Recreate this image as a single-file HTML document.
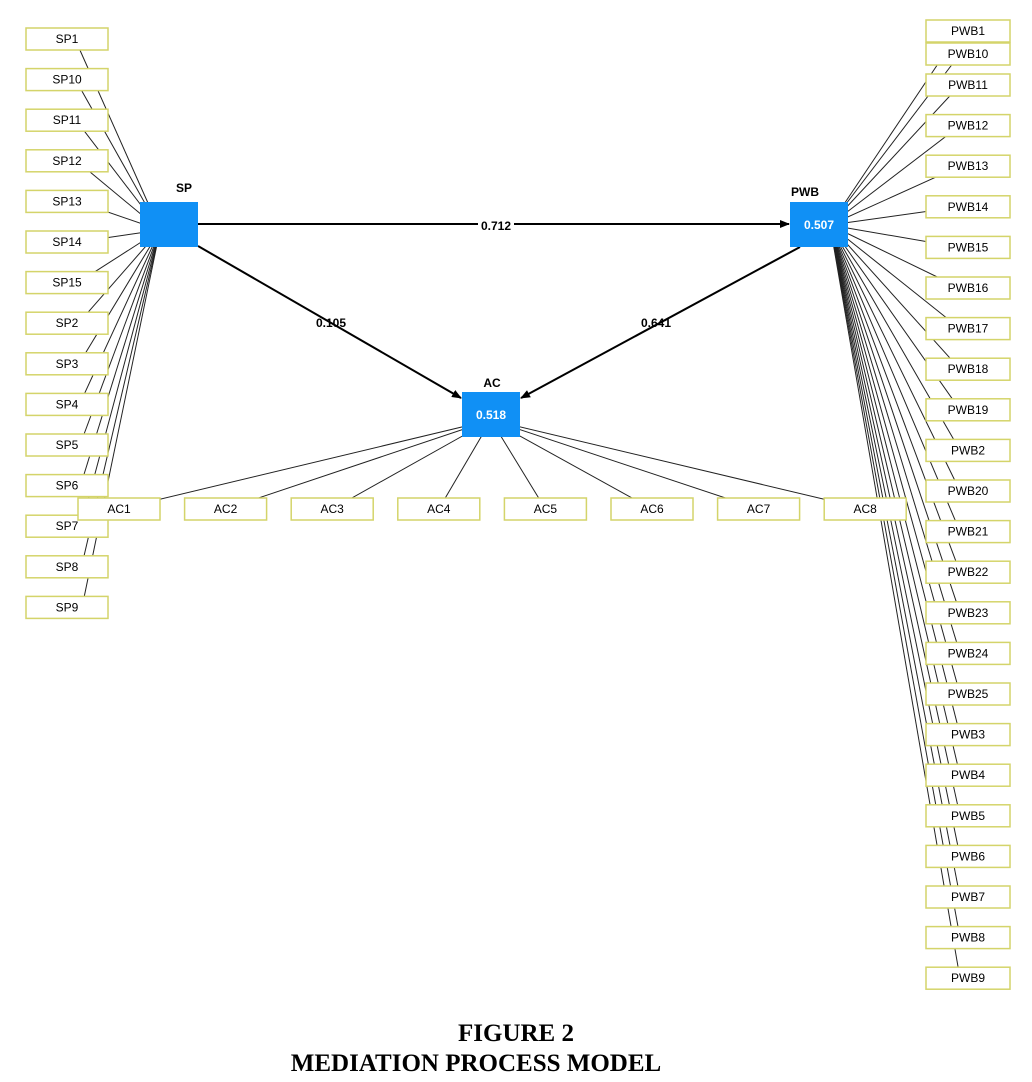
<!DOCTYPE html>
<html><head><meta charset="utf-8"><style>
body{margin:0;background:#fff;width:1032px;height:1082px;overflow:hidden}
svg text{font-family:"Liberation Sans",sans-serif}
.cap{position:absolute;left:0;width:1032px;text-align:center;font-family:"Liberation Serif",serif;font-weight:bold;font-size:25px;color:#000}
</style></head><body>
<svg width="1032" height="1082" style="position:absolute;left:0;top:0">
<defs><marker id="ah" markerWidth="10" markerHeight="8" refX="9" refY="4" orient="auto" markerUnits="userSpaceOnUse"><path d="M0,0 L10,4 L0,8 Z" fill="#000"/></marker></defs>
<g id="lines" stroke="#222" stroke-width="1"></g>
<g id="boxes"></g>
<line x1="198" y1="224" x2="789" y2="224" stroke="#000" stroke-width="2" marker-end="url(#ah)"/>
<line x1="198" y1="246" x2="461" y2="398" stroke="#000" stroke-width="2" marker-end="url(#ah)"/>
<line x1="800" y1="247" x2="521" y2="398" stroke="#000" stroke-width="2" marker-end="url(#ah)"/>
<rect x="478" y="218" width="36" height="14" fill="#fff"/>
<text x="496" y="230" font-size="12" font-weight="bold" text-anchor="middle">0.712</text>
<text x="331" y="327" font-size="12" font-weight="bold" text-anchor="middle">0.105</text>
<text x="656" y="327" font-size="12" font-weight="bold" text-anchor="middle">0.641</text>
<rect x="140" y="202" width="58" height="45" fill="#1090f5"/>
<text x="184" y="192" font-size="12" font-weight="bold" text-anchor="middle">SP</text>
<rect x="790" y="202" width="58" height="45" fill="#1090f5"/>
<text x="805" y="196" font-size="12" font-weight="bold" text-anchor="middle">PWB</text>
<text x="819" y="229" font-size="12" font-weight="bold" fill="#fff" text-anchor="middle">0.507</text>
<rect x="462" y="392" width="58" height="45" fill="#1090f5"/>
<text x="492" y="387" font-size="12" font-weight="bold" text-anchor="middle">AC</text>
<text x="491" y="419" font-size="12" font-weight="bold" fill="#fff" text-anchor="middle">0.518</text>
</svg>
<div class="cap" style="top:1020px">FIGURE 2</div>
<div class="cap" style="top:1050px;left:-40px">MEDIATION PROCESS MODEL</div>
<script>
var NS="http://www.w3.org/2000/svg",L=document.getElementById("lines"),B=document.getElementById("boxes");
function ln(a,b,c,d){var e=document.createElementNS(NS,"line");e.setAttribute("x1",a);e.setAttribute("y1",b);e.setAttribute("x2",c);e.setAttribute("y2",d);L.appendChild(e);}
function bx(x,y,w,t){var r=document.createElementNS(NS,"rect");r.setAttribute("x",x);r.setAttribute("y",y);r.setAttribute("width",w);r.setAttribute("height",22);r.setAttribute("fill","#fff");r.setAttribute("stroke","#d4d46a");r.setAttribute("stroke-width","1.5");B.appendChild(r);var s=document.createElementNS(NS,"text");s.setAttribute("x",x+w/2);s.setAttribute("y",y+15);s.setAttribute("font-size","12");s.setAttribute("text-anchor","middle");s.textContent=t;B.appendChild(s);}
var sp=["SP1","SP10","SP11","SP12","SP13","SP14","SP15","SP2","SP3","SP4","SP5","SP6","SP7","SP8","SP9"];
sp.forEach(function(t,i){var y=28+40.6*i;ln(160,230,75+i*0.5,y+11);bx(26,y,82,t);});
var pw=["PWB1","PWB10","PWB11","PWB12","PWB13","PWB14","PWB15","PWB16","PWB17","PWB18","PWB19","PWB2","PWB20","PWB21","PWB22","PWB23","PWB24","PWB25","PWB3","PWB4","PWB5","PWB6","PWB7","PWB8","PWB9"];
pw.forEach(function(t,i){var y=i==0?20:i==1?43:74+40.6*(i-2);ln(830,225,960,y+11);bx(926,y,84,t);});
for(var i=0;i<8;i++){var x=78+106.6*i;ln(491,420,x+41,509);bx(x,498,82,"AC"+(i+1));}
</script>
</body></html>
